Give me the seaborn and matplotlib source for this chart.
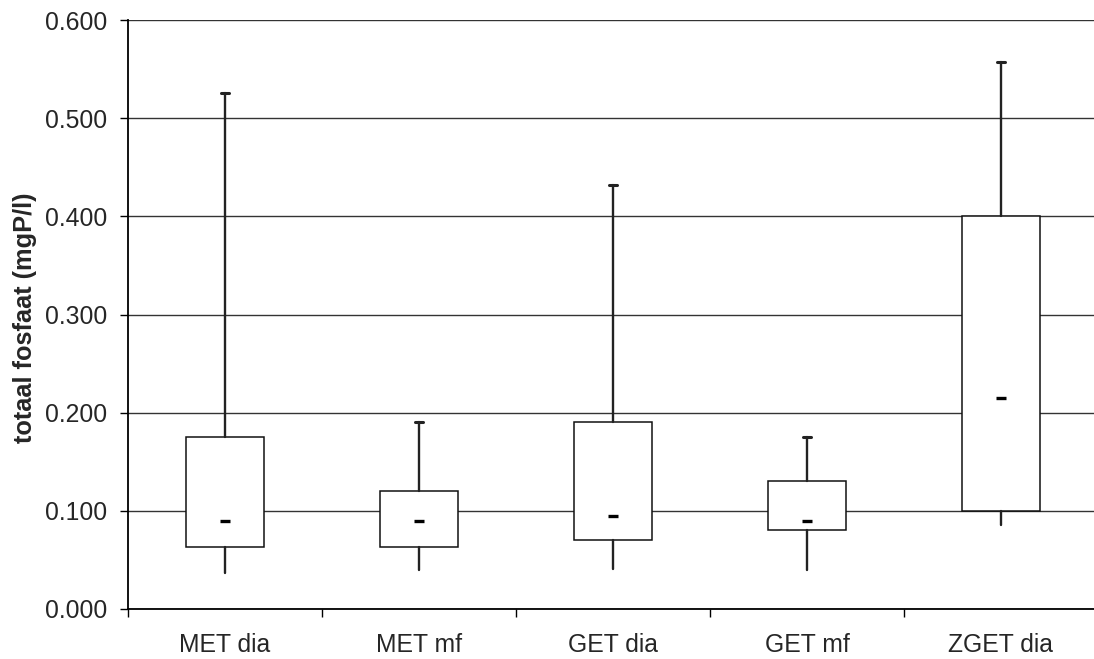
import matplotlib
matplotlib.use("Agg")
import matplotlib.pyplot as plt
import seaborn as sns
from matplotlib.ticker import FixedLocator, FormatStrFormatter

# box plot stats per group (mgP/l)
groups = ["MET dia", "MET mf", "GET dia", "GET mf", "ZGET dia"]
low = [0.037, 0.040, 0.041, 0.040, 0.086]
q1 = [0.063, 0.063, 0.070, 0.080, 0.100]
median = [0.090, 0.090, 0.095, 0.090, 0.215]
q3 = [0.175, 0.120, 0.190, 0.130, 0.400]
high = [0.526, 0.190, 0.432, 0.175, 0.557]

sns.set_style("white")
plt.rcParams["font.family"] = ["Liberation Sans", "DejaVu Sans"]

fig = plt.figure(figsize=(10.94, 6.59), dpi=100)
ax = fig.add_axes([128 / 1094, 50 / 659, 970 / 1094, 589 / 659])

stats = []
for g, lo, a, m, b, hi in zip(groups, low, q1, median, q3, high):
    stats.append(dict(label=g, whislo=lo, q1=a, med=m, q3=b, whishi=hi, fliers=[]))

pos = list(range(len(groups)))
bp = ax.bxp(stats, positions=pos, widths=0.4, patch_artist=True, showfliers=False,
            capwidths=0.045, manage_ticks=False,
            boxprops=dict(facecolor="white", edgecolor="#111111", linewidth=1.1),
            whiskerprops=dict(color="#222222", linewidth=1.7),
            capprops=dict(color="#222222", linewidth=2.2),
            medianprops=dict(linewidth=0))
# excel style: only a cap on the top whisker
for i, cap in enumerate(bp["caps"]):
    if i % 2 == 0:
        cap.set_visible(False)

# median as a short dash
sns.scatterplot(x=pos, y=median, marker="_", s=50, linewidth=2.4,
                color="black", ax=ax, zorder=5, legend=False)

ax.set_ylim(0, 0.6)
ax.set_xlim(-0.5, 4.5)
ax.yaxis.set_major_locator(FixedLocator([0, 0.1, 0.2, 0.3, 0.4, 0.5, 0.6]))
ax.yaxis.set_major_formatter(FormatStrFormatter("%.3f"))
ax.set_xticks(pos)
ax.set_xticklabels(groups)
ax.xaxis.set_minor_locator(FixedLocator([-0.5, 0.5, 1.5, 2.5, 3.5, 4.5]))

ax.yaxis.grid(True, color="#333333", linewidth=1)
ax.xaxis.grid(False)
ax.set_axisbelow(True)

ax.tick_params(axis="y", which="major", left=True, direction="out", length=6,
               width=1, color="black", pad=9, labelsize=17.8)
ax.tick_params(axis="x", which="major", bottom=True, length=0, pad=17, labelsize=17.8)
ax.tick_params(axis="x", which="minor", bottom=True, direction="out", length=6,
               width=1, color="black")

for s in ["top", "right"]:
    ax.spines[s].set_visible(False)
for s in ["left", "bottom"]:
    ax.spines[s].set_color("black")
    ax.spines[s].set_linewidth(1.3)

ax.set_xlabel("")
ax.set_ylabel("totaal fosfaat (mgP/l)", fontsize=18.3, fontweight="bold")
ax.yaxis.set_label_coords(-0.094, 0.494)

fig.savefig("out.png", dpi=100)
